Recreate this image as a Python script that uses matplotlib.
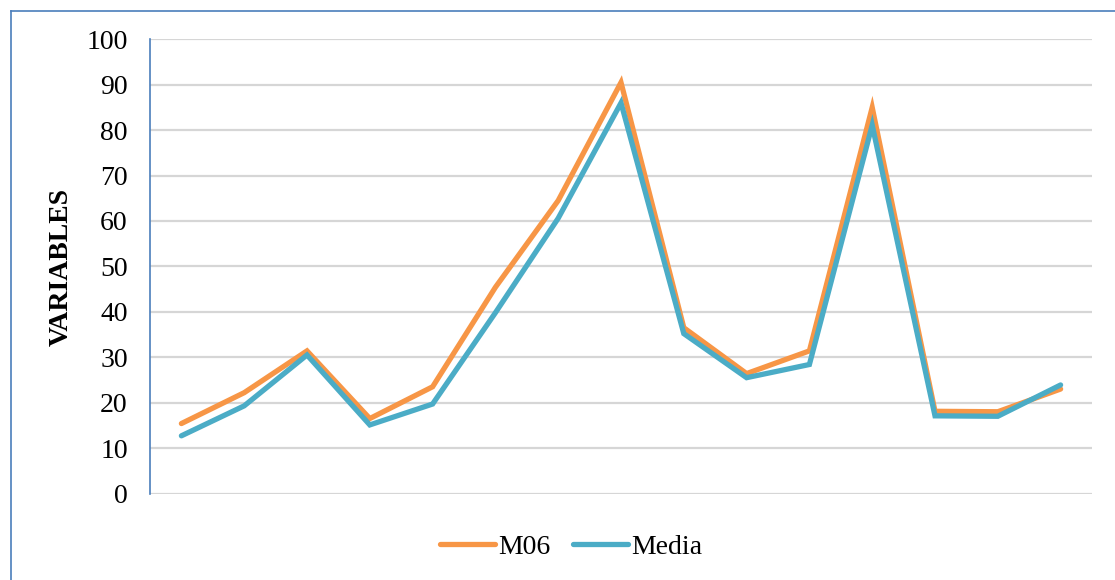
import matplotlib
matplotlib.use("Agg")
import matplotlib.pyplot as plt
from matplotlib.lines import Line2D

# data
categories = list(range(1, 16))
m06 = [15.4, 22.2, 31.4, 16.5, 23.5, 45.4, 64.5, 90.5, 36.5, 26.4, 31.4, 85.0, 18.1, 18.0, 23.0]
media = [12.7, 19.3, 30.5, 15.1, 19.7, 39.8, 60.6, 86.0, 35.2, 25.5, 28.4, 81.1, 17.1, 17.0, 23.9]
y_ticks = [0, 10, 20, 30, 40, 50, 60, 70, 80, 90, 100]

plt.rcParams['font.family'] = ['Liberation Serif', 'DejaVu Serif']

fig = plt.figure(figsize=(11.15, 5.8), dpi=100)
ax = fig.add_axes([150 / 1115, 1 - 493.5 / 580, 942 / 1115, 454.2 / 580])

x = list(range(len(categories)))
ax.plot(x, m06, color='#f79646', lw=3.8, solid_capstyle='round',
        solid_joinstyle='miter', label='M06', zorder=3)
ax.plot(x, media, color='#4bacc6', lw=3.8, solid_capstyle='round',
        solid_joinstyle='miter', label='Media', zorder=4)

ax.set_xlim(-0.5, len(categories) - 0.5)
ax.set_ylim(0, 100)
ax.set_yticks(y_ticks)
ax.set_xticks([])
ax.tick_params(axis='y', length=0, labelsize=20, pad=16)
ax.yaxis.grid(True, color='#d6d6d6', lw=1.6)
ax.set_axisbelow(True)

for side in ['top', 'right', 'bottom']:
    ax.spines[side].set_visible(False)
ax.spines['left'].set_color('#4a7ebb')
ax.spines['left'].set_linewidth(1.2)

fig.text(61 / 1115, 1 - 267 / 580, 'VARIABLES', rotation=90, fontsize=20,
         fontweight='bold', ha='center', va='center')

ax.legend(loc='center', bbox_to_anchor=(571 / 1115, 1 - 547 / 580),
          bbox_transform=fig.transFigure, ncol=2, frameon=False,
          fontsize=20, handlelength=2.0, handletextpad=0.1, columnspacing=0.8)

# blue outline of the chart area (top and left edges)
fig.add_artist(Line2D([10.5 / 1115, 1], [1 - 10.5 / 580, 1 - 10.5 / 580],
                      transform=fig.transFigure, color='#4a7ebb', lw=1.2))
fig.add_artist(Line2D([10.5 / 1115, 10.5 / 1115], [0, 1 - 10.5 / 580],
                      transform=fig.transFigure, color='#4a7ebb', lw=1.2))

fig.savefig('out.png', dpi=100)
